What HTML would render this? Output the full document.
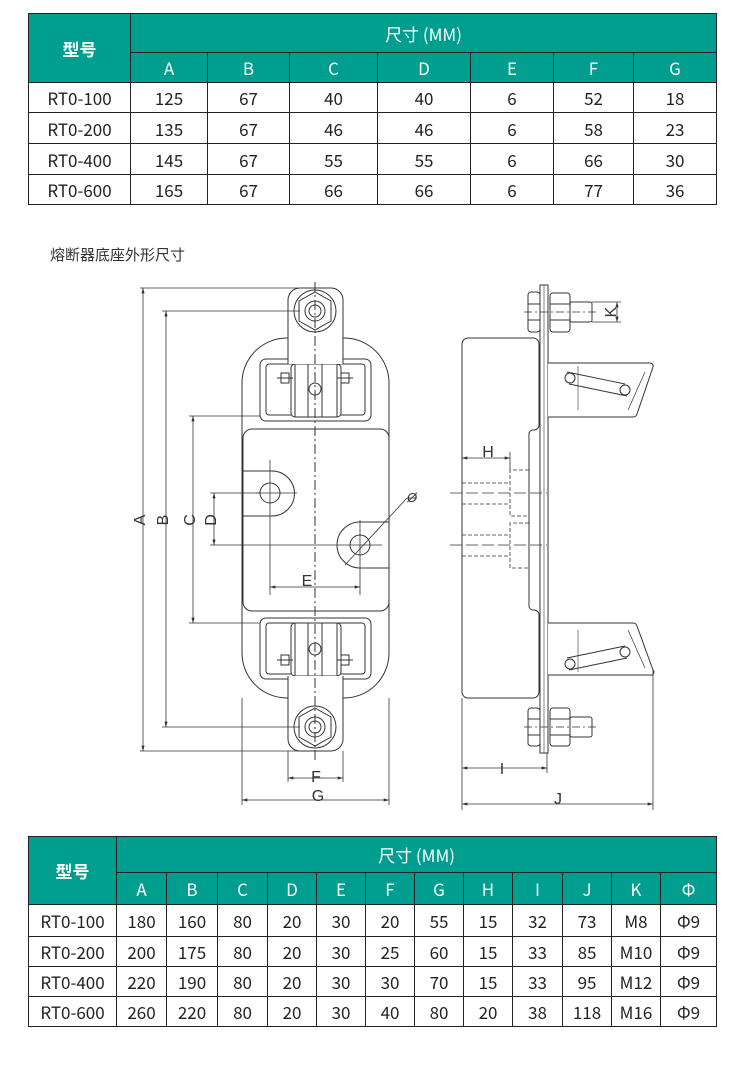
<!DOCTYPE html>
<html><head><meta charset="utf-8"><style>
body{margin:0;background:#fff;width:750px;height:1065px;position:relative;overflow:hidden;font-family:"Noto Sans CJK SC","Liberation Sans",sans-serif;}
table{position:absolute;border-collapse:collapse;table-layout:fixed;}
td{border:1.5px solid #222;text-align:center;padding:0;font-size:17px;color:#222;line-height:1;}
td.h{background:#009e8e;color:#fff;}
td.hb{font-weight:bold;font-size:17px;}
.cap{position:absolute;left:50px;top:245px;font-size:15px;color:#333;line-height:20px;}
svg{position:absolute;left:0;top:0;}
</style></head><body>
<table style="left:28px;top:13px;width:688px;">
<colgroup><col style="width:102px"><col style="width:77px"><col style="width:82px"><col style="width:88px"><col style="width:93px"><col style="width:83px"><col style="width:80px"><col style="width:83px"></colgroup>
<tr style="height:39px"><td class="h hb" rowspan="2">型号</td><td class="h" colspan="7">尺寸 (MM)</td></tr>
<tr style="height:30px"><td class="h">A</td><td class="h">B</td><td class="h">C</td><td class="h">D</td><td class="h">E</td><td class="h">F</td><td class="h">G</td></tr>
<tr style="height:30px"><td>RT0-100</td><td>125</td><td>67</td><td>40</td><td>40</td><td>6</td><td>52</td><td>18</td></tr>
<tr style="height:31px"><td>RT0-200</td><td>135</td><td>67</td><td>46</td><td>46</td><td>6</td><td>58</td><td>23</td></tr>
<tr style="height:31px"><td>RT0-400</td><td>145</td><td>67</td><td>55</td><td>55</td><td>6</td><td>66</td><td>30</td></tr>
<tr style="height:30px"><td>RT0-600</td><td>165</td><td>67</td><td>66</td><td>66</td><td>6</td><td>77</td><td>36</td></tr>
</table>
<div class="cap">熔断器底座外形尺寸</div>
<table style="left:28px;top:836px;width:688px;">
<colgroup><col style="width:88px"><col style="width:50px"><col style="width:51px"><col style="width:50px"><col style="width:49px"><col style="width:49px"><col style="width:49px"><col style="width:49px"><col style="width:49px"><col style="width:50px"><col style="width:49px"><col style="width:49px"><col style="width:56px"></colgroup>
<tr style="height:36px"><td class="h hb" rowspan="2">型号</td><td class="h" colspan="12">尺寸 (MM)</td></tr>
<tr style="height:32px"><td class="h">A</td><td class="h">B</td><td class="h">C</td><td class="h">D</td><td class="h">E</td><td class="h">F</td><td class="h">G</td><td class="h">H</td><td class="h">I</td><td class="h">J</td><td class="h">K</td><td class="h">Φ</td></tr>
<tr style="height:32px"><td>RT0-100</td><td>180</td><td>160</td><td>80</td><td>20</td><td>30</td><td>20</td><td>55</td><td>15</td><td>32</td><td>73</td><td>M8</td><td>Φ9</td></tr>
<tr style="height:30px"><td>RT0-200</td><td>200</td><td>175</td><td>80</td><td>20</td><td>30</td><td>25</td><td>60</td><td>15</td><td>33</td><td>85</td><td>M10</td><td>Φ9</td></tr>
<tr style="height:30px"><td>RT0-400</td><td>220</td><td>190</td><td>80</td><td>20</td><td>30</td><td>30</td><td>70</td><td>15</td><td>33</td><td>95</td><td>M12</td><td>Φ9</td></tr>
<tr style="height:30px"><td>RT0-600</td><td>260</td><td>220</td><td>80</td><td>20</td><td>30</td><td>40</td><td>80</td><td>20</td><td>38</td><td>118</td><td>M16</td><td>Φ9</td></tr>
</table>
<svg width="750" height="1065" viewBox="0 0 750 1065" fill="none" stroke="#333" stroke-width="1" font-family="Liberation Sans, sans-serif" font-size="16">
<defs><marker id="a" viewBox="0 0 10 6" refX="10" refY="3" markerWidth="7" markerHeight="4" orient="auto-start-reverse"><path d="M0,0 L10,3 L0,6" fill="#333" stroke="none"/></marker></defs>
<rect x="242" y="338" width="147" height="360" rx="45" fill="#fff"/>
<rect x="243" y="429" width="146" height="182" rx="9"/>
<rect x="260" y="359" width="111" height="62" rx="6"/><rect x="266" y="364" width="99" height="51" rx="3"/>
<rect x="260" y="618" width="111" height="61" rx="6"/><rect x="266" y="623" width="99" height="51" rx="3"/>
<rect x="291" y="364" width="50" height="53" rx="4" fill="#fff"/><rect x="295" y="364" width="42" height="53"/>
<line x1="308" y1="364" x2="308" y2="417"/><line x1="322" y1="364" x2="322" y2="417"/>
<circle cx="315" cy="389" r="6"/>
<rect x="291" y="623" width="50" height="53" rx="4" fill="#fff"/><rect x="295" y="623" width="42" height="53"/>
<line x1="308" y1="623" x2="308" y2="676"/><line x1="322" y1="623" x2="322" y2="676"/>
<circle cx="315" cy="649" r="6"/>
<g><rect x="281" y="373" width="8" height="10"/><rect x="341" y="373" width="8" height="10"/><rect x="281" y="655" width="8" height="10"/><rect x="341" y="655" width="8" height="10"/>
<line x1="277" y1="378" x2="293" y2="378"/><line x1="337" y1="378" x2="353" y2="378"/><line x1="277" y1="660" x2="293" y2="660"/><line x1="337" y1="660" x2="353" y2="660"/></g>
<path d="M288,364 V300 a12,12 0 0 1 12,-12 H331 a12,12 0 0 1 12,12 V364" fill="#fff"/>
<path d="M288,676 V739 a12,12 0 0 0 12,12 H331 a12,12 0 0 0 12,-12 V676" fill="#fff"/>
<circle cx="315" cy="311" r="21"/><polygon points="315,292 331,301 331,321 315,330 299,321 299,301"/><circle cx="315" cy="311" r="10"/><circle cx="315" cy="311" r="6"/>
<circle cx="315" cy="727" r="21"/><polygon points="315,708 331,717 331,737 315,746 299,737 299,717"/><circle cx="315" cy="727" r="10"/><circle cx="315" cy="727" r="6"/>
<path d="M243,471 H272 a22.5,22.5 0 0 1 0,45 H243"/><circle cx="270" cy="493" r="10"/>
<path d="M389,522 H360 a23,23 0 0 0 0,46 H389"/><circle cx="360" cy="545" r="10"/>
<line x1="315" y1="282" x2="315" y2="762" stroke-dasharray="10,3,2,3"/>
<line x1="270" y1="460" x2="270" y2="595" stroke-width="0.8"/><line x1="360" y1="520" x2="360" y2="595" stroke-width="0.8"/>
<line x1="256" y1="493" x2="297" y2="493" stroke-width="0.8"/>
<g stroke-width="0.8">
<line x1="140" y1="288" x2="315" y2="288"/><line x1="140" y1="751" x2="315" y2="751"/>
<line x1="162" y1="311" x2="300" y2="311"/><line x1="162" y1="727" x2="300" y2="727"/>
<line x1="189" y1="416" x2="260" y2="416"/><line x1="189" y1="623" x2="260" y2="623"/>
<line x1="210" y1="493" x2="260" y2="493"/><line x1="210" y1="545" x2="382" y2="545"/>
<line x1="345" y1="565" x2="407" y2="498"/><line x1="407" y1="498" x2="417" y2="498"/>
<line x1="288" y1="751" x2="288" y2="782"/><line x1="343" y1="751" x2="343" y2="782"/>
<line x1="242" y1="698" x2="242" y2="805"/><line x1="389" y1="698" x2="389" y2="805"/>
</g>
<g stroke-width="0.8" marker-start="url(#a)" marker-end="url(#a)">
<line x1="143" y1="288" x2="143" y2="751"/>
<line x1="166" y1="311" x2="166" y2="727"/>
<line x1="193" y1="416" x2="193" y2="623"/>
<line x1="214" y1="493" x2="214" y2="545"/>
<line x1="270" y1="587" x2="360" y2="587"/>
<line x1="288" y1="778" x2="343" y2="778"/>
<line x1="242" y1="800" x2="389" y2="800"/>
</g>
<g fill="#333" stroke="none">
<text x="139" y="526" transform="rotate(-90 139 520)" text-anchor="middle">A</text>
<text x="162" y="526" transform="rotate(-90 162 520)" text-anchor="middle">B</text>
<text x="189" y="526" transform="rotate(-90 189 520)" text-anchor="middle">C</text>
<text x="210" y="526" transform="rotate(-90 210 520)" text-anchor="middle">D</text>
<text x="307" y="586" text-anchor="middle">E</text>
<text x="412" y="502" font-size="13" font-style="italic" text-anchor="middle">Ø</text>
<text x="316" y="782" text-anchor="middle">F</text>
<text x="318" y="801" text-anchor="middle">G</text>
</g>
<path d="M462,344 a6,6 0 0 1 6,-6 H533 a6,6 0 0 1 6,6 V425 a5,5 0 0 1 -5,5 H533 a4,4 0 0 0 -4,4 V606 a4,4 0 0 0 4,4 H534 a5,5 0 0 1 5,5 V692 a6,6 0 0 1 -6,6 H468 a6,6 0 0 1 -6,-6 Z" fill="#fff"/>
<rect x="540" y="285" width="8" height="468" fill="#fff"/><line x1="544" y1="285" x2="544" y2="753" stroke-width="0.6"/>
<rect x="528" y="292" width="12" height="40" rx="3"/><line x1="528" y1="304" x2="540" y2="304"/><line x1="528" y1="320" x2="540" y2="320"/>
<rect x="550" y="293" width="20" height="39" rx="3"/><line x1="550" y1="304" x2="570" y2="304"/><line x1="550" y1="320" x2="570" y2="320"/>
<rect x="570" y="302" width="22" height="20" rx="2"/>
<rect x="528" y="708" width="12" height="38" rx="3"/><line x1="528" y1="719" x2="540" y2="719"/><line x1="528" y1="735" x2="540" y2="735"/>
<rect x="550" y="708" width="20" height="38" rx="3"/><line x1="550" y1="719" x2="570" y2="719"/><line x1="550" y1="735" x2="570" y2="735"/>
<rect x="570" y="717" width="22" height="20" rx="2"/>
<line x1="524" y1="312" x2="596" y2="312" stroke-dasharray="8,3,2,3" stroke-width="0.7"/>
<line x1="524" y1="727" x2="596" y2="727" stroke-dasharray="8,3,2,3" stroke-width="0.7"/>
<path d="M548,363 H650 a3,3 0 0 1 3,4 L637,414 a4,4 0 0 1 -4,3 H548" fill="#fff"/>
<line x1="645" y1="372" x2="628" y2="410" stroke-width="0.7"/>
<path d="M567,372 L625,384 M569,384 L627,396" stroke-width="0.9"/><circle cx="570" cy="378" r="5"/><circle cx="625" cy="390" r="5"/>
<line x1="578" y1="366" x2="578" y2="410" stroke-width="0.6"/>
<path d="M548,623 H633 a4,4 0 0 1 4,3 L653,670 a3,3 0 0 1 -3,5 H548" fill="#fff"/>
<line x1="628" y1="630" x2="645" y2="668" stroke-width="0.7"/>
<path d="M567,658 L625,646 M569,670 L627,658" stroke-width="0.9"/><circle cx="570" cy="664" r="5"/><circle cx="625" cy="652" r="5"/>
<line x1="578" y1="630" x2="578" y2="672" stroke-width="0.6"/>
<g stroke-dasharray="4,2" stroke-width="0.8">
<path d="M529,470 H510 V516 H529"/><path d="M529,523 H510 V568 H529"/>
<line x1="462" y1="483" x2="510" y2="483"/><line x1="462" y1="504" x2="510" y2="504"/>
<line x1="462" y1="535" x2="510" y2="535"/><line x1="462" y1="556" x2="510" y2="556"/>
</g>
<g stroke-dasharray="12,4" stroke-width="0.8">
<line x1="450" y1="493" x2="547" y2="493"/><line x1="450" y1="545" x2="547" y2="545"/>
</g>
<g stroke-width="0.8">
<line x1="510" y1="452" x2="510" y2="470"/>
<line x1="592" y1="302" x2="621" y2="302"/><line x1="592" y1="322" x2="621" y2="322"/>
<line x1="462" y1="698" x2="462" y2="810"/><line x1="547" y1="753" x2="547" y2="773"/>
<line x1="653" y1="670" x2="653" y2="810"/>
</g>
<g stroke-width="0.8" marker-start="url(#a)" marker-end="url(#a)">
<line x1="462" y1="458" x2="510" y2="458"/>
<line x1="617" y1="302" x2="617" y2="322"/>
<line x1="462" y1="768" x2="547" y2="768"/>
<line x1="462" y1="804" x2="653" y2="804"/>
</g>
<g fill="#333" stroke="none">
<text x="488" y="457" text-anchor="middle">H</text>
<text x="610" y="318" transform="rotate(-90 610 312)" text-anchor="middle">K</text>
<text x="502" y="774" text-anchor="middle">I</text>
<text x="558" y="804" text-anchor="middle">J</text>
</g>
</svg>
</body></html>
